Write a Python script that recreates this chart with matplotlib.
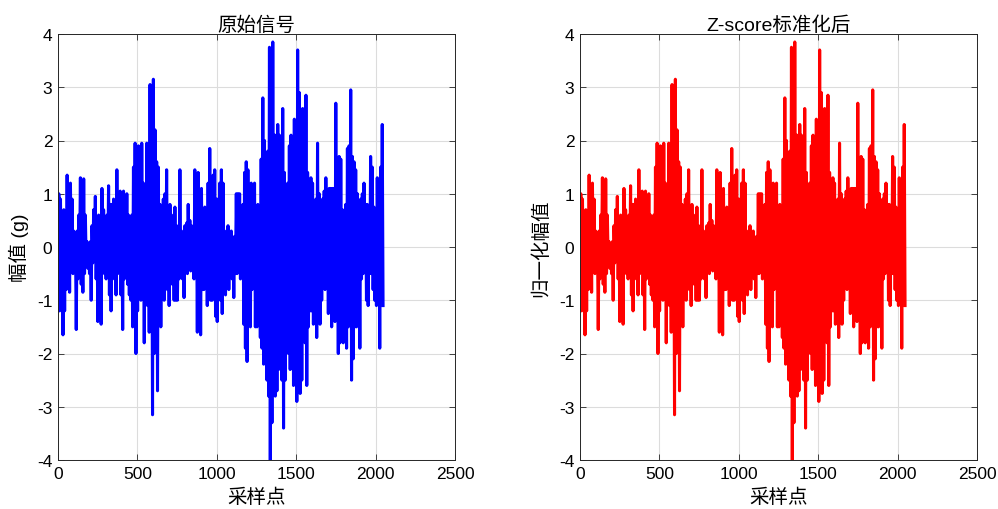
import numpy as np
import matplotlib
matplotlib.use("Agg")
import matplotlib.pyplot as plt

plt.rcParams['font.family'] = ['Liberation Sans', 'Noto Sans CJK SC', 'DejaVu Sans']
plt.rcParams['axes.unicode_minus'] = False

seg_a = [0.0, 1.0, -1.2, 0.9, -1.0, 0.5, -1.65, 0.7, -1.2, 0.6, -0.8, 1.35, -0.6, 0.8, -0.85,
         1.2, -0.4, 0.9, -0.5, 0.3, -0.2, 0.2, -1.55, 0.3, -0.6, 0.6, -0.3, 1.3, -0.7, 0.5, -0.85,
         1.28, -0.5, 0.6, -0.3, 0.1, -0.4, 0.0, -0.5, 0.1, -1.0, 0.4, -0.3, 0.7, -0.2, 0.95, -0.6,
         0.5, -1.4, 0.6, -0.8, 0.4, -1.45, 1.1, -0.4, 0.7, -0.5, 0.5, -0.6, 0.6, -0.3, 1.15, -0.9,
         0.8, -1.2, 0.8, -0.5, 0.9, -0.6, 0.7, -0.9, 1.45, -0.5, 0.8, -0.3, 1.05, -0.9, 0.5, -1.55,
         1.05, -0.6, 0.9, -0.4, 1.0, -0.7, 0.6, -0.9, 0.5, -1.0, 0.6, -1.5, 1.5, -1.0]
seg_b = [1.95, -2.0, 1.0, -1.2, 1.9, -0.6, 0.8, -1.0, 1.95, -0.8, 1.2, -1.8, 1.05, -0.9,
         1.95, -1.1, 1.4, -1.6, 3.05, -1.2, 1.5, -3.15, 3.15, -2.0, 2.2, -1.5, 1.6, -2.7,
         1.5, -1.2, 0.8, -1.5, 0.5, -0.6, 0.9, -1.0, 1.0, -0.6, 1.45, -0.8, 0.6, -1.1, 0.8, -0.5,
         0.6, -0.7, 0.45, -1.0, 0.75, -1.0, 0.4, -1.0, 0.2, -0.6, 1.45, -0.3, 0.3, -0.6, 0.2, -0.95,
         0.4, -0.3, 0.45, -0.5, 0.8, -0.3, 0.5, -0.45, 0.4, -0.2, 0.3, -0.6, 1.45, -0.4, 0.9, -1.6,
         1.4, -1.0, 0.6, -1.65, 1.1, -0.8, 0.6, -0.8, 0.75, -0.6, 0.5, -1.1, 1.2, -0.9, 1.85, -1.0,
         0.9, -1.0, 1.35, -0.8, 1.45, -1.3, 0.9, -1.4, 0.9, -0.9, 1.2, -1.0, 1.45, -1.25, 1.2, -0.8]
seg_c = [0.3, -0.9, 0.25, -0.4, 0.4, -0.8, 0.2, -0.5, 0.3, -0.6, 0.1, -0.95, 0.2, -0.5,
         1.0, -0.5, 1.0, -0.3, 1.0, -0.6, 0.5, -0.2, 0.8, -1.45, 1.4, -1.9, 1.6, -2.15, 1.45, -1.2,
         1.1, -1.5, 1.2, -0.8, 0.9, -0.5, 1.2, -1.5, 0.7, -1.5, 0.8, -1.4, 0.75, -1.7, 1.65, -1.9,
         2.8, -2.2, 2.0, -1.5, 1.6, -2.5, 1.8, -2.8, 3.75, -4.0, 2.0, -3.3, 3.85, -2.0, 2.1, -2.8,
         2.1, -2.7, 2.3, -2.3, 2.1, -1.6, 1.7, -2.5, 2.6, -3.4, 1.4, -2.5, 0.8, -1.2, 1.2, -2.0,
         1.9, -2.3, 2.1, -1.5, 1.4, -2.6, 2.4, -2.4, 1.6, -2.9, 3.7, -2.0, 2.9, -2.75, 2.5, -2.5,
         2.6, -1.6, 1.2, -1.8, 2.85, -2.6]
seg_d = [1.4, -1.5, 0.5, -1.2, 1.3, -1.2, 1.2, -1.45, 0.8, -0.5, 0.9, -1.7, 1.95, -1.4,
         1.0, -1.45, 0.5, -1.0, 0.9, -0.6, 1.05, -0.8, 1.3, 0.0, 0.6, -1.25, 1.1, -0.6, 1.1, -1.5,
         1.1, -0.8, 1.1, -1.4, 2.7, -1.0, 1.0, -2.0, 1.7, -1.8, 1.65, -1.3, 0.7, -1.8, 0.4, -1.2,
         0.8, -1.9, 1.85, -1.5, 1.9, -1.0, 2.95, -2.5, 1.7, -2.1, 1.6, -1.5, 1.45, -1.5, 1.0, -1.2,
         0.5, -1.9, 0.9, -0.6, 1.0, -0.5, 1.2, -0.4, 0.8, -1.0, 0.8, -1.1, 0.3, -0.5, 1.7, -0.5,
         1.5, -0.8, 0.75, -1.0, 0.2, -1.1, 1.3, -0.6, 1.0, -1.9, 1.5, -1.0, 2.3, -1.1]

n_samples = 2048
signal = np.array(seg_a + seg_b + seg_c + seg_d)
samples = np.linspace(0, n_samples - 1, len(signal))
zscore = signal  # identical after normalisation in the reference

titles = ['原始信号', 'Z-score标准化后']
ylabels = ['幅值 (g)', '归一化幅值']
xlabel = '采样点'
colors = ['#0000ff', '#ff0000']
xticks = [0, 500, 1000, 1500, 2000, 2500]
yticks = [-4, -3, -2, -1, 0, 1, 2, 3, 4]

fig = plt.figure(figsize=(9.98, 5.10), dpi=100)
ax_pos = [[58 / 998, 49 / 510, 397 / 998, 426 / 510],
          [580 / 998, 49 / 510, 397 / 998, 426 / 510]]

for i, data in enumerate([signal, zscore]):
    ax = fig.add_axes(ax_pos[i])
    ax.plot(samples, data, color=colors[i], linewidth=2.2)
    ax.set_xlim(0, 2500)
    ax.set_ylim(-4, 4)
    ax.set_xticks(xticks)
    ax.set_yticks(yticks)
    ax.grid(True, color='#dcdcdc', linewidth=0.8)
    ax.set_axisbelow(True)
    ax.tick_params(direction='in', top=True, right=True, labelsize=12.5,
                   colors='#262626', length=4, width=0.6, pad=4)
    ax.tick_params(labelcolor='black')
    for s in ax.spines.values():
        s.set_color('#262626')
        s.set_linewidth(0.7)
    ax.set_title(titles[i], fontsize=14, pad=3)
    ax.set_xlabel(xlabel, fontsize=14, labelpad=5)
    ax.set_ylabel(ylabels[i], fontsize=14, labelpad=6)

fig.savefig('out.png', dpi=100)
